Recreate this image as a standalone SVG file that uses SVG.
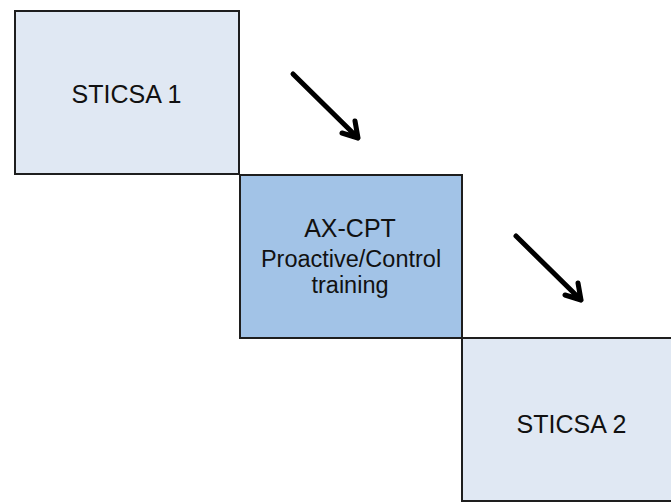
<svg xmlns="http://www.w3.org/2000/svg" width="671" height="503" viewBox="0 0 671 503">
<defs>
<style>
.box{stroke:#1e1e1e;stroke-width:2}
.light{fill:#e0e8f3}
.dark{fill:#a2c3e7}
.t{font-family:"Liberation Sans",Arial,sans-serif;fill:#111111;text-anchor:middle}
.big{font-size:25px}
.sm{font-size:23.5px}
.arr{stroke:#000;stroke-width:5;fill:none;stroke-linecap:round;stroke-linejoin:round}
</style>
</defs>
<rect width="671" height="503" fill="#ffffff"/>
<g id="node-sticsa1">
<rect class="box light" x="15" y="11" width="224" height="163"/>
<text class="t big" x="126.5" y="103">STICSA 1</text>
</g>
<g id="node-axcpt">
<rect class="box dark" x="240" y="175" width="222" height="163"/>
<text class="t big" x="350" y="237">AX-CPT</text>
<text class="t sm" x="351" y="267">Proactive/Control</text>
<text class="t sm" x="350" y="293">training</text>
</g>
<g id="node-sticsa2">
<rect class="box light" x="462" y="338" width="220" height="163"/>
<text class="t big" x="571.5" y="433">STICSA 2</text>
</g>
<g id="connectors">
<path class="arr" d="M293 74 L358 138 M342 133 L358 138 L355 121"/>
<path class="arr" d="M516 236 L581 300 M565 295 L581 300 L578 283"/>
</g>
</svg>
